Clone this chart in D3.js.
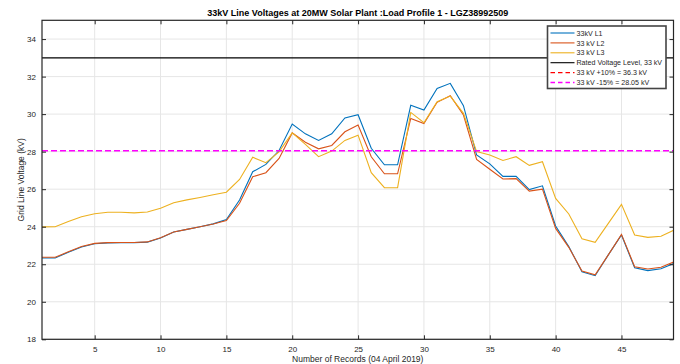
<!DOCTYPE html>
<html><head><meta charset="utf-8">
<script src="https://cdn.jsdelivr.net/npm/d3@7"></script>
<style>
body{margin:0;background:#fff;}
svg text{font-family:"Liberation Sans",Arial,sans-serif;}
</style></head>
<body><svg id="c" width="680" height="364"></svg>
<script>
const records = d3.range(1, 50);
const L1 = [22.33,22.33,22.64,22.92,23.09,23.14,23.15,23.15,23.18,23.4,23.72,23.86,24.0,24.15,24.38,25.42,26.93,27.32,28.06,29.47,28.95,28.6,28.95,29.8,29.97,28.18,27.3,27.3,30.47,30.22,31.37,31.64,30.45,27.82,27.35,26.68,26.68,25.98,26.18,24.04,22.94,21.6,21.39,22.5,23.56,21.81,21.66,21.76,22.05];
const L2 = [22.37,22.37,22.66,22.95,23.11,23.15,23.16,23.16,23.19,23.41,23.72,23.86,24.0,24.14,24.33,25.25,26.66,26.88,27.64,29.0,28.5,28.15,28.33,29.06,29.42,27.73,26.82,26.82,29.77,29.5,30.63,30.98,29.95,27.59,27.06,26.54,26.56,25.9,26.0,23.91,22.9,21.64,21.44,22.5,23.59,21.87,21.75,21.84,22.13];
const L3 = [23.99,24.0,24.28,24.53,24.69,24.77,24.77,24.74,24.78,24.98,25.28,25.43,25.56,25.7,25.84,26.52,27.7,27.41,27.99,29.0,28.39,27.73,28.03,28.6,28.88,26.88,26.08,26.08,30.09,29.54,30.66,30.96,30.04,28.0,27.82,27.53,27.73,27.27,27.46,25.51,24.68,23.36,23.17,24.18,25.19,23.56,23.43,23.49,23.82];
const seriesNames = ["33kV L1","33 kV L2","33 kV L3"];
const seriesColors = ["#0072BD","#D95319","#EDB120"];
const ratedV = 33, plusTen = 36.3, minusFifteen = 28.05;
const yTicks = [18,20,22,24,26,28,30,32,34];
const xTicks = [5,10,15,20,25,30,35,40,45];
const titleText = "33kV Line Voltages at 20MW Solar Plant :Load Profile 1 - LGZ38992509";
const xLabel = "Number of Records (04 April 2019)";
const yLabel = "Grid Line Voltage (kV)";

const svg = d3.select("#c");
const L = 42, R = 673.5, T = 20.3, B = 339.3;
const x = d3.scaleLinear().domain([1, 48.95]).range([L, R]);
const y = d3.scaleLinear().domain([18, 35]).range([B, T]);

// grid
const g = svg.append("g");
g.selectAll(".gx").data(xTicks).join("line")
  .attr("x1", d=>x(d)).attr("x2", d=>x(d)).attr("y1", T).attr("y2", B)
  .attr("stroke", "#e6e6e6").attr("stroke-width", 1);
g.selectAll(".gy").data(yTicks).join("line")
  .attr("y1", d=>y(d)).attr("y2", d=>y(d)).attr("x1", L).attr("x2", R)
  .attr("stroke", "#e6e6e6").attr("stroke-width", 1);

const clip = svg.append("clipPath").attr("id","clp").append("rect")
  .attr("x", L).attr("y", T).attr("width", R-L).attr("height", B-T);
const plot = svg.append("g").attr("clip-path","url(#clp)");

const line = d3.line().x((d,i)=>x(records[i])).y(d=>y(d));
[L1, L2, L3].forEach((s,k)=>{
  plot.append("path").datum(s).attr("d", line).attr("fill","none")
    .attr("stroke", seriesColors[k]).attr("stroke-width", 1.1);
});
plot.append("line").attr("x1", L).attr("x2", R).attr("y1", y(ratedV)).attr("y2", y(ratedV))
  .attr("stroke","#000").attr("stroke-width",1.2);
plot.append("line").attr("x1", L).attr("x2", R).attr("y1", y(plusTen)).attr("y2", y(plusTen))
  .attr("stroke","#ff0000").attr("stroke-width",1.5).attr("stroke-dasharray","6,3");
plot.append("line").attr("x1", L).attr("x2", R).attr("y1", y(minusFifteen)).attr("y2", y(minusFifteen))
  .attr("stroke","#ff00ff").attr("stroke-width",1.5).attr("stroke-dasharray","6,3");

// axes
const tickCol = "#262626";
const ax = svg.append("g").attr("transform", `translate(0,${B})`)
  .call(d3.axisBottom(x).tickValues(xTicks).tickSize(-4).tickPadding(7));
const axT = svg.append("g").attr("transform", `translate(0,${T})`)
  .call(d3.axisTop(x).tickValues(xTicks).tickSize(-4).tickFormat(""));
const ay = svg.append("g").attr("transform", `translate(${L},0)`)
  .call(d3.axisLeft(y).tickValues(yTicks).tickSize(-4).tickPadding(6));
const ayR = svg.append("g").attr("transform", `translate(${R},0)`)
  .call(d3.axisRight(y).tickValues(yTicks).tickSize(-4).tickFormat(""));
[ax, axT, ay, ayR].forEach(a=>{
  a.select(".domain").remove();
  a.selectAll(".tick line").attr("stroke", tickCol).attr("stroke-width",1);
  a.selectAll(".tick text").attr("fill", tickCol).style("font-size","8px")
   .style("font-family",'"Liberation Sans",Arial,sans-serif');
});
svg.append("rect").attr("x", L).attr("y", T).attr("width", R-L).attr("height", B-T)
  .attr("fill","none").attr("stroke", tickCol).attr("stroke-width",1.2);

// labels
svg.append("text").attr("x", (L+R)/2).attr("y", 16).attr("text-anchor","middle")
  .style("font-size","9px").style("font-weight","bold").attr("fill","#000").text(titleText);
svg.append("text").attr("x", (L+R)/2).attr("y", 362).attr("text-anchor","middle")
  .style("font-size","8.5px").attr("fill", tickCol).text(xLabel);
svg.append("text").attr("transform", `translate(24,${(T+B)/2}) rotate(-90)`).attr("text-anchor","middle")
  .style("font-size","8.5px").attr("fill", tickCol).text(yLabel);

// legend
const legItems = [
  {n: seriesNames[0], c: seriesColors[0], d: null},
  {n: seriesNames[1], c: seriesColors[1], d: null},
  {n: seriesNames[2], c: seriesColors[2], d: null},
  {n: "Rated Voltage Level, 33 kV", c: "#000", d: null},
  {n: "33 kV +10% = 36.3 kV", c: "#ff0000", d: "4.5,3"},
  {n: "33 kV -15% = 28.05 kV", c: "#ff00ff", d: "4.5,3"}
];
const lx = 547.5, ly = 26, lw = 118.5, lh = 62.5;
const leg = svg.append("g");
leg.append("rect").attr("x", lx).attr("y", ly).attr("width", lw).attr("height", lh)
  .attr("fill","#fff").attr("stroke","#444").attr("stroke-width",1.6);
legItems.forEach((it,i)=>{
  const yy = 33 + i*9.9;
  leg.append("line").attr("x1", 550.5).attr("x2", 574.5).attr("y1", yy).attr("y2", yy)
    .attr("stroke", it.c).attr("stroke-width", it.d ? 1.4 : 1.1)
    .attr("stroke-dasharray", it.d);
  leg.append("text").attr("x", 576.5).attr("y", yy+2.6).style("font-size","7.1px")
    .attr("fill", tickCol).text(it.n);
});
</script></body></html>
